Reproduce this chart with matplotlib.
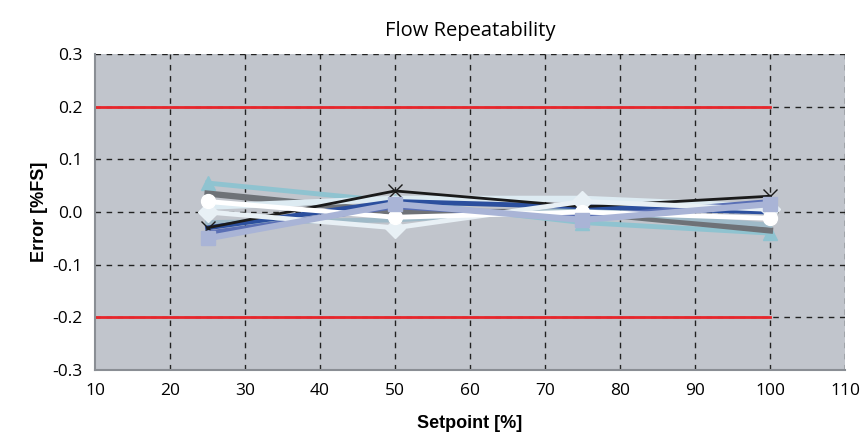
import matplotlib
matplotlib.use("Agg")
import matplotlib.pyplot as plt

# data
setpoints = [25, 50, 75, 100]
limit_upper = 0.2
limit_lower = -0.2
limit_x = [10, 100]

run_black = [-0.030, 0.040, 0.010, 0.030]
run_darkgray = [0.035, 0.000, 0.000, -0.035]
run_white_circle = [0.020, -0.010, 0.000, -0.012]
run_square = [-0.050, 0.015, -0.015, 0.015]
run_cyan = [0.055, 0.020, -0.020, -0.040]
run_navy = [-0.030, 0.020, 0.010, 0.000]
run_white_diamond = [0.000, -0.030, 0.020, 0.005]
run_royal = [-0.040, 0.010, -0.010, 0.020]
run_paleblue = [0.010, 0.025, 0.025, 0.010]
run_steel = [-0.020, -0.015, 0.005, -0.025]

series = [
    (run_cyan, "#8FC3D0", "^", 3.5),
    (run_darkgray, "#6E7277", None, 4.5),
    (run_steel, "#9FBAC8", None, 3.5),
    (run_paleblue, "#DDEBF2", None, 4.5),
    (run_navy, "#2B4F9E", None, 3.5),
    (run_black, "#1A1A1A", "x", 2),
    (run_royal, "#5A6FB5", None, 3.5),
    (run_white_diamond, "#E8F0F5", "D", 3.5),
    (run_white_circle, "#FFFFFF", "o", 3.5),
    (run_square, "#A9B4D6", "s", 4.5),
]

fig = plt.figure(figsize=(8.67, 4.4), dpi=100)
ax = fig.add_axes([0.1096, 0.159, 0.8650, 0.7183])
ax.set_facecolor("#C1C5CC")

ax.set_xlim(10, 110)
ax.set_ylim(-0.3, 0.3)
ax.set_xticks(range(10, 111, 10))
ax.set_yticks([-0.3, -0.2, -0.1, 0.0, 0.1, 0.2, 0.3])
ax.set_yticklabels([f"{v:.1f}" for v in ax.get_yticks()])

for xv in range(20, 111, 10):
    ax.axvline(xv, color="#222222", lw=1.0, ls=(0, (4, 4)), zorder=1)
for yv in [-0.1, 0.0, 0.1, 0.2, -0.2, 0.3]:
    ax.axhline(yv, color="#222222", lw=1.0, ls=(0, (4, 4)), zorder=1)

ax.plot(limit_x, [limit_upper] * 2, color="#E8262B", lw=2, zorder=2)
ax.plot(limit_x, [limit_lower] * 2, color="#E8262B", lw=2, zorder=2)

for vals, col, mk, lw in series:
    ax.plot(setpoints, vals, color=col, lw=lw, marker=mk, markersize=10,
            markeredgecolor=col, markerfacecolor=col, zorder=3)

for s in ["top", "right"]:
    ax.spines[s].set_visible(False)
for s in ["left", "bottom"]:
    ax.spines[s].set_color("#8A8E94")
    ax.spines[s].set_linewidth(1.5)

ax.tick_params(length=0, labelsize=12.5, pad=9)
for lab in ax.get_xticklabels() + ax.get_yticklabels():
    lab.set_family("Open Sans")

ax.set_title("Flow Repeatability", fontsize=14.5, family="Open Sans", pad=13)
ax.set_xlabel("Setpoint [%]", fontsize=13, fontweight="bold", family="Liberation Sans", labelpad=12)
ax.set_ylabel("Error [%FS]", fontsize=13, fontweight="bold", family="Liberation Sans", labelpad=3)

fig.savefig("out.png", dpi=100)
